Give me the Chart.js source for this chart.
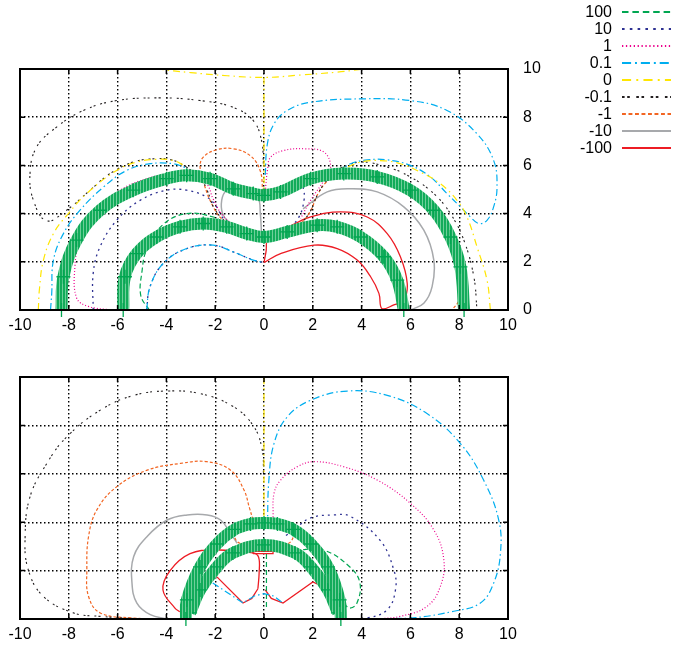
<!DOCTYPE html>
<html>
<head>
<meta charset="utf-8">
<script src="https://cdn.jsdelivr.net/npm/chart.js@4.4.1/dist/chart.umd.min.js"></script>
<style>
  html, body { margin: 0; padding: 0; background: #fff; }
  #wrap { position: relative; width: 673px; height: 649px; }
  .box { position: absolute; left: 0; width: 673px; }
  #top-box { top: 0; height: 340px; }
  #bot-box { top: 340px; height: 309px; }
</style>
</head>
<body>
<div id="wrap">
  <div class="box" id="top-box"><canvas id="top-chart"></canvas></div>
  <div class="box" id="bot-box"><canvas id="bot-chart"></canvas></div>
</div>
<script>
// ── Axis ticks / legend ─────────────────────────────────────────────────────
const X_TICKS = [-10, -8, -6, -4, -2, 0, 2, 4, 6, 8, 10];
const Y_TICKS = [0, 2, 4, 6, 8, 10];
const LEVELS  = ['100', '10', '1', '0.1', '0', '-0.1', '-1', '-10', '-100'];

// ── Top panel contours, [x, y] ─────────────────────────────────────────────
const topYellowLeft  = [[-9.25,0],[-9.2,0.9],[-9.04,2.07],[-8.63,3.17],[-8.02,4.0],[-7.27,4.83],[-6.04,5.79],[-5.22,6.14],[-4.4,6.25],[-3.7,6.2],[-3.2,5.95]];
const topYellowRight = [[9.28,0],[9.14,1.24],[8.73,2.62],[8.32,3.86],[7.91,4.55],[7.23,5.24],[6.41,5.72],[5.59,6.07],[4.77,6.2],[3.96,6.14],[3.41,5.93]];
const topYellowTop   = [[-4.4,10],[-3,9.85],[-1.5,9.72],[0,9.65],[1.5,9.75],[3,9.87],[3.96,9.98]];
const topYellowAxis  = [[0,9.65],[0,7.5],[0,5.0]];

const topCyanRight = [[0.05,5.6],[0.14,6.9],[0.41,7.72],[0.95,8.28],[1.91,8.62],[3.96,8.76],[6.0,8.69],[7.5,8.28],[8.73,7.31],[9.41,6.21],[9.55,5.1],[9.41,4.28],[9.14,3.72],[8.8,3.59],[8.46,3.86],[8.05,4.28],[7.5,4.83],[6.82,5.52],[6.0,6.0],[5.05,6.23],[4.23,6.23],[3.55,6.07],[3.14,5.79]];
const topCyanLeft  = [[-8.75,0],[-8.7,0.69],[-8.63,2.07],[-8.22,3.17],[-7.54,4.14],[-6.58,5.1],[-5.63,5.79],[-4.67,6.07],[-3.72,6.07],[-3.2,5.9]];
const topInnerArc  = [[-4.81,0],[-4.67,0.97],[-4.13,1.93],[-3.17,2.55],[-2.08,2.69],[-1.26,2.41],[-0.44,2.07],[0,1.97]];

const topBlackLoop = [[-3.2,5.95],[-3.72,6.21],[-4.4,6.28],[-5.36,6.14],[-6.31,5.66],[-7.13,4.97],[-8.09,4.14],[-8.91,3.7],[-9.45,4.55],[-9.59,5.66],[-9.32,6.76],[-8.5,7.59],[-7.4,8.28],[-6.04,8.69],[-4.26,8.8],[-2.62,8.69],[-1.26,8.41],[-0.44,7.86],[-0.1,7.03],[-0.02,6.0]];
const topBlackRight = [[3.14,5.9],[3.96,6.14],[5.05,5.93],[6.0,5.52],[6.96,4.83],[7.64,4.0],[8.19,2.9],[8.6,1.38],[8.73,0]];
const topNeck = [[-3.2,5.95],[-2.62,5.5],[-2.3,4.9],[-2.08,4.3],[-1.67,3.75],[-0.98,3.33],[0,3.17],[0.9,3.3],[1.5,3.6],[1.9,4.1],[2.2,4.8],[2.6,5.4],[3.14,5.85]];

const topOrangeTop   = [[-0.05,4.9],[-0.16,5.79],[-0.57,6.41],[-1.26,6.69],[-1.94,6.65],[-2.49,6.34],[-2.62,5.93],[-2.45,5.2],[-2.08,4.28],[-1.67,3.72],[-0.98,3.31],[0,3.17]];
const topOrangeRight = [[0,3.17],[0.9,3.3],[1.5,3.6],[1.9,4.1],[2.2,4.8],[2.6,5.35],[3.0,5.52],[3.96,5.72],[5.32,5.24],[6.41,4.55],[7.23,3.72],[7.78,2.62],[8.05,1.38],[7.98,0.4],[7.7,0]];

const topPinkLeft  = [[-6.2,0],[-7.2,0.15],[-7.68,0.5],[-7.75,1.79],[-7.54,2.9],[-6.86,4.14],[-5.9,4.97],[-4.81,5.45],[-3.72,5.66],[-2.9,5.59],[-2.35,5.24],[-2.08,4.6],[-1.67,3.9],[-0.98,3.4],[0,3.2]];
const topPinkRight = [[0.05,4.9],[0.14,5.79],[0.27,6.34],[0.82,6.62],[1.64,6.69],[2.46,6.55],[2.73,5.93],[2.46,5.38],[1.91,4.55],[1.5,3.8]];

const topBlueLeft  = [[-7.0,0],[-7.0,1.52],[-6.72,2.62],[-6.04,3.72],[-5.08,4.55],[-3.99,4.97],[-3.17,4.97],[-2.35,4.69],[-1.94,4.28],[-1.67,3.8],[-0.98,3.35],[0,3.17]];
const topBlueRight = [[0.9,3.3],[1.4,3.8],[1.64,4.55],[1.6,5.1],[1.45,5.3]];

const topGreenDash = [[-4.7,0],[-5.05,0.6],[-5.0,1.6],[-4.81,2.5],[-4.13,3.55],[-3.17,4.0],[-2.08,3.86],[-1.6,3.6]];

const topRed  = [[0,1.97],[0.68,2.34],[2.05,2.69],[3.0,2.55],[3.82,2.07],[4.37,1.38],[4.71,0.69],[4.84,0.05],[5.32,0.21],[5.73,0.41],[5.87,1.1],[5.59,2.21],[5.05,3.17],[4.23,3.86],[3.14,4.07],[1.91,3.86],[1.0,3.45],[0.2,3.1],[0.08,2.4],[0,1.97]];
const topGrayRight = [[1.6,4.2],[2.59,4.9],[3.55,5.03],[4.64,4.9],[5.73,4.28],[6.55,3.31],[6.96,2.07],[6.89,0.97],[6.55,0.28],[6.0,0]];
const topGrayLoop  = [[-0.1,3.1],[-0.15,4.0],[-0.25,4.7],[-0.7,5.1],[-1.2,5.15],[-1.6,4.9],[-1.75,4.4],[-1.65,3.9],[-1.3,3.55],[-0.7,3.3],[-0.1,3.1]];

const topBandOuter = [[-8.3,0],[-8.22,1.38],[-7.68,2.9],[-6.72,4.14],[-5.36,4.97],[-3.99,5.45],[-3.17,5.59],[-2.21,5.45],[-1.26,5.03],[-0.44,4.83],[0,4.76],[0.68,4.9],[1.91,5.45],[3.27,5.66],[4.64,5.52],[6.0,4.97],[6.96,4.14],[7.64,3.03],[8.05,1.79],[8.2,0]];
const topBandInner = [[-5.77,0],[-5.7,1.38],[-5.22,2.34],[-4.4,3.03],[-3.44,3.45],[-2.49,3.59],[-1.53,3.45],[-0.71,3.17],[0,3.03],[0.95,3.24],[2.18,3.52],[3.0,3.45],[3.96,3.03],[4.91,2.21],[5.46,1.24],[5.73,0]];

// ── Bottom panel contours ──────────────────────────────────────────────────
const botBlack  = [[-4.0,0],[-5.34,0.02],[-6.71,0.11],[-7.8,0.25],[-9.04,0.93],[-9.66,2.03],[-9.79,3.41],[-9.59,5.05],[-8.9,6.43],[-8.08,7.53],[-6.71,8.63],[-5.34,9.24],[-3.97,9.42],[-2.6,9.31],[-1.23,8.76],[-0.41,7.94],[-0.07,6.98],[-0.02,6.0]];
const botOrange = [[-4.0,0],[-5.34,0.04],[-6.71,0.25],[-7.19,0.93],[-7.26,2.03],[-7.19,3.41],[-6.85,4.51],[-6.03,5.47],[-4.79,6.15],[-3.42,6.43],[-2.33,6.5],[-1.37,6.15],[-0.82,5.33],[-0.6,4.6],[-0.45,4.1]];
const botOrangeCupL = [[-1.25,3.55],[-1.1,3.2],[-0.8,3.1],[-0.6,3.2]];
const botOrangeCupR = [[0.6,3.2],[0.85,3.1],[1.1,3.2],[1.25,3.55]];
const botGray   = [[-3.97,0],[-4.66,0.18],[-5.21,0.66],[-5.41,1.48],[-5.34,2.58],[-4.79,3.41],[-3.97,4.09],[-3.15,4.3],[-2.33,4.3],[-1.78,4.09],[-1.37,3.54],[-1.1,3.13]];
const botRedLeft  = [[-3.45,0.3],[-3.65,0.45],[-4.14,1.2],[-3.85,2.0],[-3.03,2.7],[-1.93,2.85],[-0.45,2.73],[-0.22,2.55],[-0.2,1.9],[-0.25,1.25]];
const botRedWedgeL = [[-1.93,1.74],[-0.86,0.66],[-0.5,0.85],[-0.25,1.25]];
const botRedWedgeR = [[0.05,1.2],[0.3,0.85],[0.78,0.66],[2.0,1.53],[2.4,1.35],[2.85,0.9],[3.15,0.3]];
const botRedBox   = [[-0.45,2.7],[0.37,2.7],[0.37,2.8],[-0.45,2.8],[-0.45,2.7]];
const botCyan   = [[0.14,3.82],[0.2,5.74],[0.41,7.25],[0.95,8.35],[1.91,9.04],[3.41,9.42],[5.05,9.24],[6.68,8.49],[8.05,7.25],[9.0,5.74],[9.62,4.09],[9.69,2.72],[9.41,1.48],[8.87,0.66],[7.78,0.32],[6.0,0.04],[3.96,0]];
const botCyanLow = [[-2.1,1.49],[-0.86,0.66],[-0.4,0.95],[0,1.05],[0.4,0.95],[0.78,0.66]];
const botPink   = [[0.37,4.2],[0.41,5.19],[0.68,5.74],[1.36,6.29],[2.05,6.5],[3.27,6.29],[4.64,5.74],[6.0,4.78],[6.96,3.68],[7.37,2.45],[7.23,1.35],[6.68,0.52],[5.59,0.11],[4.64,0]];
const botBlue   = [[0.9,3.45],[1.23,3.68],[1.89,4.17],[2.86,4.3],[3.52,4.25],[4.75,3.26],[5.32,2.03],[5.39,1.21],[5.05,0.38],[4.23,0.04],[3.5,0]];
const botGreenDash = [[0.3,3.0],[1.19,2.85],[2.42,2.85],[3.52,2.15],[3.93,1.49],[3.81,0.66],[3.52,0.45],[3.3,0.6]];
const botGreenAxis = [[0.1,0.5],[0.1,2.7]];
const botYellowAxis = [[0,10],[0,7],[0,4.2]];

const botBandOuter = [[-3.2,0],[-3.16,0.79],[-2.62,2.15],[-1.93,3.1],[-1.2,3.7],[-0.55,3.93],[0,3.97],[0.55,3.93],[1.2,3.7],[1.93,3.1],[2.62,2.15],[3.1,0.79],[3.15,0]];
const botBandInner = [[-3.03,0.25],[-2.62,1.2],[-1.93,2.15],[-1.27,2.73],[0,3.06],[1.27,2.73],[1.93,2.15],[2.62,1.2],[3.03,0.25]];

// ── Styles ──────────────────────────────────────────────────────────────────
const FONT = { family: "'Liberation Sans', Arial, sans-serif", size: 16 };
const BAND_GREEN = '#00A651';
const STYLE = {
  '100':  { color: '#00A651', dash: [5, 3],          width: 1.2 },
  '10':   { color: '#2E3192', dash: [2, 4],          width: 1.3 },
  '1':    { color: '#EC008C', dash: [1, 2],          width: 1.2 },
  '0.1':  { color: '#00AEEF', dash: [7, 3, 1.5, 3],  width: 1.2 },
  '0':    { color: '#FFE600', dash: [7, 4, 1.5, 4],  width: 1.2 },
  '-0.1': { color: '#231F20', dash: [2, 2, 2, 5],    width: 1.1 },
  '-1':   { color: '#F26522', dash: [3, 2],          width: 1.2 },
  '-10':  { color: '#A7A9AC', dash: [],              width: 1.5 },
  '-100': { color: '#ED1C24', dash: [],              width: 1.3 },
};

// vertical hatch, mimics the dense '+' marks of the band
function bandPattern() {
  const c = document.createElement('canvas');
  c.width = 3; c.height = 3;
  const g = c.getContext('2d');
  g.fillStyle = '#6fcf9a';
  g.fillRect(0, 0, 3, 3);
  g.fillStyle = '#12ab5a';
  g.fillRect(0, 0, 2, 3);
  return g.createPattern(c, 'repeat');
}
const BAND_FILL = bandPattern();

const toXY = pts => pts.map(([x, y]) => ({ x, y }));

// sharp = true for the polygonal pieces (no smoothing)
function contour(level, pts, sharp) {
  const s = STYLE[level];
  return {
    data: toXY(pts),
    showLine: true,
    borderColor: s.color,
    borderDash: s.dash,
    borderWidth: s.width,
    pointRadius: 0,
    tension: sharp ? 0 : 0.4,
    fill: false,
    order: 2,
  };
}

function band(pts) {
  return {
    data: toXY(pts),
    showLine: true,
    borderColor: BAND_FILL,
    borderWidth: 12,
    tension: 0.4,
    pointStyle: 'cross',
    pointRadius: 7,
    pointBorderColor: BAND_GREEN,
    pointBorderWidth: 1.3,
    fill: false,
    clip: 8,
    order: 0,
  };
}

// ── Frame + inward tick marks (gnuplot style) ───────────────────────────────
const framePlugin = {
  id: 'frame',
  afterDatasetsDraw(chart) {
    const { ctx, chartArea: a, scales } = chart;
    ctx.save();
    ctx.strokeStyle = '#000';
    ctx.lineWidth = 1.5;
    ctx.setLineDash([]);
    ctx.beginPath();
    X_TICKS.forEach(v => {
      const px = scales.x.getPixelForValue(v);
      ctx.moveTo(px, a.bottom); ctx.lineTo(px, a.bottom - 5);
      ctx.moveTo(px, a.top);    ctx.lineTo(px, a.top + 5);
    });
    Y_TICKS.forEach(v => {
      const py = scales.y.getPixelForValue(v);
      ctx.moveTo(a.left, py);  ctx.lineTo(a.left + 5, py);
      ctx.moveTo(a.right, py); ctx.lineTo(a.right - 5, py);
    });
    ctx.stroke();
    ctx.lineWidth = 2;
    ctx.strokeRect(a.left, a.top, a.right - a.left, a.bottom - a.top);
    ctx.restore();
  },
};

// ── Legend, top right of the page ──────────────────────────────────────────
const legendPlugin = {
  id: 'levelLegend',
  afterDraw(chart) {
    const ctx = chart.ctx;
    ctx.save();
    ctx.font = `${FONT.size}px ${FONT.family}`;
    ctx.textAlign = 'right';
    ctx.textBaseline = 'middle';
    LEVELS.forEach((lv, i) => {
      const y = 12 + i * 17;
      const s = STYLE[lv];
      ctx.fillStyle = '#000';
      ctx.fillText(lv, 612, y + 1);
      ctx.strokeStyle = s.color;
      ctx.lineWidth = 2;
      ctx.setLineDash(s.dash.map(d => d * 1.3));
      ctx.beginPath();
      ctx.moveTo(622, y);
      ctx.lineTo(671, y);
      ctx.stroke();
    });
    ctx.restore();
  },
};

function makeOptions(opts) {
  return {
    responsive: true,
    maintainAspectRatio: false,
    animation: false,
    layout: { padding: { left: 20, top: opts.top, right: 0, bottom: 0 } },
    plugins: { legend: { display: false }, tooltip: { enabled: false } },
    scales: {
      x: {
        type: 'linear',
        min: -10, max: 10,
        afterFit: s => { s.height = 30; },
        afterBuildTicks: s => { s.ticks = X_TICKS.map(v => ({ value: v })); },
        grid: { color: '#000', lineWidth: 1.4, drawTicks: false },
        border: { display: false, dash: [1.5, 2.5] },
        ticks: { color: '#000', font: FONT, padding: 6, maxRotation: 0 },
      },
      y: {
        type: 'linear',
        position: 'right',
        min: 0, max: 10,
        afterFit: s => { s.width = 165; },
        afterBuildTicks: s => { s.ticks = Y_TICKS.map(v => ({ value: v })); },
        grid: { color: '#000', lineWidth: 1.4, drawTicks: false },
        border: { display: false, dash: [1.5, 2.5] },
        ticks: { display: opts.yLabels, color: '#000', font: FONT, padding: 15 },
      },
    },
  };
}

new Chart(document.getElementById('top-chart'), {
  type: 'scatter',
  data: {
    datasets: [
      band(topBandOuter), band(topBandInner),
      contour('0', topYellowLeft), contour('0', topYellowRight), contour('0', topYellowTop), contour('0', topYellowAxis),
      contour('0.1', topCyanRight), contour('0.1', topCyanLeft), contour('0.1', topInnerArc),
      contour('-0.1', topBlackLoop), contour('-0.1', topBlackRight), contour('-0.1', topNeck),
      contour('-1', topOrangeTop), contour('-1', topOrangeRight),
      contour('1', topPinkLeft), contour('1', topPinkRight),
      contour('10', topBlueLeft), contour('10', topBlueRight), contour('10', topInnerArc),
      contour('100', topGreenDash),
      contour('-10', topGrayRight), contour('-10', topGrayLoop),
      contour('-100', topRed),
    ],
  },
  options: makeOptions({ top: 69, yLabels: true }),
  plugins: [framePlugin, legendPlugin],
});

new Chart(document.getElementById('bot-chart'), {
  type: 'scatter',
  data: {
    datasets: [
      band(botBandOuter), band(botBandInner),
      contour('0', botYellowAxis),
      contour('-0.1', botBlack),
      contour('-1', botOrange), contour('-1', botOrangeCupL), contour('-1', botOrangeCupR),
      contour('-10', botGray),
      contour('0.1', botCyan), contour('0.1', botCyanLow, true),
      contour('1', botPink),
      contour('10', botBlue),
      contour('100', botGreenDash), contour('100', botGreenAxis, true),
      contour('-100', botRedLeft), contour('-100', botRedWedgeL, true), contour('-100', botRedWedgeR, true), contour('-100', botRedBox, true),
    ],
  },
  options: makeOptions({ top: 37, yLabels: false }),
  plugins: [framePlugin],
});
</script>
</body>
</html>
